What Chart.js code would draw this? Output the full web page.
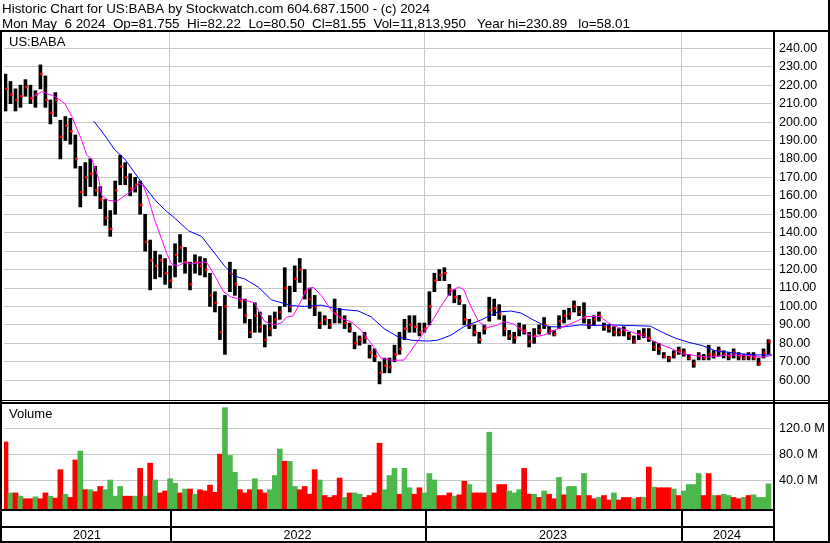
<!DOCTYPE html>
<html>
<head>
<meta charset="utf-8">
<title>US:BABA historic chart</title>
<script src="https://cdn.jsdelivr.net/npm/chart.js@4.4.1/dist/chart.umd.min.js"></script>
<style>
  html, body { margin: 0; padding: 0; background: #fff; }
  #canvas-wrapper { width: 830px; height: 543px; }
</style>
</head>
<body>
<div id="canvas-wrapper"><canvas id="canvas" width="830" height="543"></canvas></div>
<script>
// header text
var titleLine1 = 'Historic Chart for US:BABA by Stockwatch.com 604.687.1500 - (c) 2024';
var titleLine2 = 'Mon May  6 2024  Op=81.755  Hi=82.22  Lo=80.50  Cl=81.55  Vol=11,813,950   Year hi=230.89   lo=58.01';
var symbol = 'US:BABA';

// year boundaries (trading-day index) and labels
var yearStarts = [168, 424, 681];
var yearLabels = ['2021', '2022', '2023', '2024'];

// price axis ticks, volume axis ticks (millions)
var priceTicks = [60, 70, 80, 90, 100, 110, 120, 130, 140, 150, 160, 170, 180, 190, 200, 210, 220, 230, 240];
var volumeTicks = [40, 80, 120];

// weekly buckets (5 trading days each)
var high = [226,222,218,220,223,220,217,231,225,212,
  216,201,203,202,193,176,178,180,176,165,
  158,152,168,182,178,172,170,168,150,136,
  130,128,126,122,134,139,132,124,128,127,
  126,118,108,100,106,124,120,111,104,93,
  102,97,90,95,97,100,121,111,122,126,
  120,110,106,97,95,93,104,99,95,91,
  86,84,86,79,77,70,72,72,79,86,
  93,95,95,91,91,108,118,120,121,112,
  109,106,101,93,90,86,90,105,104,101,
  95,87,86,91,90,86,88,90,94,89,
  87,95,98,99,103,100,102,93,95,97,
  91,90,89,88,89,86,84,87,88,88,
  81,80,75,73,76,78,77,74,71,75,
  74,79,76,78,76,75,77,75,74,75,
  75,72,77,82];
var low = [206,210,206,208,214,210,208,218,208,199,
  203,180,190,188,175,154,160,165,160,153,
  144,138,150,166,166,160,162,150,130,109,
  115,116,112,110,116,124,118,109,118,117,
  116,100,97,82,74,108,106,99,91,83,
  86,86,78,84,88,93,100,97,108,113,
  104,99,95,88,90,88,91,91,88,86,
  77,79,80,72,70,58,64,64,70,74,
  82,86,86,84,86,90,108,114,114,106,
  102,101,90,88,84,80,85,92,95,93,
  84,82,80,84,85,78,80,85,88,85,
  84,88,91,93,97,95,91,88,90,92,
  87,86,84,84,84,82,80,82,83,81,
  76,74,72,70,72,74,73,71,67,71,
  71,71,72,73,72,71,72,71,71,71,
  71,68,72,74];
var close = [218,215,212,214,219,213,215,226,212,205,
  212,192,198,195,180,162,170,172,163,158,
  148,142,163,176,170,164,166,155,135,125,
  122,125,118,114,128,132,124,112,124,122,
  120,106,102,86,100,118,112,103,95,86,
  95,89,82,88,93,97,110,100,115,120,
  108,104,100,91,93,90,96,94,91,88,
  80,82,83,75,73,64,68,67,74,77,
  88,90,89,86,88,100,114,117,118,109,
  105,103,93,90,86,82,88,98,99,96,
  88,84,83,88,87,81,84,87,90,87,
  85,92,95,96,100,97,94,90,93,95,
  89,88,86,86,87,84,81,85,85,83,
  78,77,73,72,74,76,75,72,69,73,
  72,74,74,76,74,73,75,73,72,73,
  72,69,75,81];

// volume in millions, 1 = up bucket (green), 0 = down (red)
var volume = [99,20,20,15,11,11,14,11,20,15,
  12,56,18,13,71,85,25,25,22,30,
  25,40,15,30,15,15,15,58,15,66,
  40,20,23,42,35,20,26,26,18,25,
  23,32,21,80,152,78,52,25,20,25,
  42,25,20,25,47,88,69,69,30,25,
  30,18,56,40,16,13,16,43,13,20,
  20,18,13,16,20,97,25,47,58,18,
  58,28,18,28,20,50,40,16,16,20,
  15,17,38,33,20,20,20,114,20,33,
  33,23,20,25,58,18,18,13,23,18,
  11,44,17,30,30,16,50,16,11,13,
  16,9,20,9,13,13,11,13,13,60,
  29,28,28,28,26,16,23,33,33,50,
  16,50,16,16,18,16,13,11,13,16,
  17,13,13,34];
var volUp = [0,1,0,1,0,0,1,0,0,1,
  0,0,1,0,0,1,0,1,0,0,
  1,1,1,1,0,0,1,0,1,0,
  1,0,0,1,1,0,1,0,1,0,
  0,0,0,0,1,1,1,0,0,0,
  1,0,0,1,1,1,0,1,1,0,
  0,0,0,1,0,0,0,0,1,0,
  1,1,0,0,0,0,1,1,1,0,
  1,1,0,0,1,1,1,0,0,0,
  1,0,0,1,0,0,0,1,0,0,
  0,1,1,1,0,0,1,0,1,0,
  0,1,0,1,1,0,1,0,0,1,
  0,0,1,0,0,0,1,0,1,0,
  1,0,0,0,1,0,1,1,1,1,
  0,0,1,0,1,1,0,0,1,0,
  1,1,1,1];

// moving averages: day index and value
var ma50Day = [32,40,53,63,70,80,85,90,97,100,107,115,123,132,137,142,147,153,160,165,
  170,177,183,190,200,205,213,222,230,240,253,263,272,280,285,292,298,305,312,320,
  330,340,350,360,370,380,390,403,410,420,430,440,450,458,463,470,478,487,497,503,
  513,523,533,543,550,560,570,580,585,600,608,618,632,642,652,662,672,682,695,708,
  722,735,748,762,772];
var ma50 = [214,216.5,214,210,203,190,182,180,169,160,157.5,157,160,163.5,167,165,158,147,136.5,129,
  123,122,124,123,124,124,117,108,105,104,102,92,90,91,94,95,101,109,110.5,106,
  98,93.5,91.7,87,80,72,70.8,70.9,76,83.6,91,100,108,110.7,109,100,91.7,88.6,89.9,91.7,
  90.5,86.2,83.5,84.4,86,88.5,90.5,93,94.6,94.5,91,88.6,86,84,81.5,79,77,74.3,73.4,72.5,
  73.4,73.7,73.4,72.5,73.4];
var ma200Day = [92,100,113,123,133,143,153,163,173,187,200,213,223,233,243,257,270,290,303,320,
  337,357,370,383,397,410,427,437,450,463,480,497,510,520,533,543,550,563,580,595,
  608,633,650,662,675,688,702,715,728,742,755,772];
var ma200 = [200.5,195,185,180,172.5,165,158,152.5,148,141,138,129,122,116.5,115,110.5,103.6,100.5,100,100.7,
  98.5,97.6,94.4,88,83.5,81.7,81.2,81.7,84.4,89,92.6,97,97.5,96.5,92.6,89.9,89,88.9,90,89.6,
  90,89.6,89.3,86,82.8,80.6,78.8,76,75.2,74.3,73.7,73.7];

var VOL_MIN = -4.9;
var FONT = '"Liberation Sans", Arial, sans-serif';

Chart.defaults.font.family = FONT;

var bucketDay = high.map(function(h, i){ return 5 * i + 3.5; });
var priceBars = [], closePts = [], volBars = [], volColors = [];
for (var i = 0; i < high.length; i++) {
  priceBars.push({x: bucketDay[i], y: [low[i], high[i]]});
  closePts.push({x: bucketDay[i] + 1, y: close[i]});
  volBars.push({x: bucketDay[i], y: [VOL_MIN, volume[i]]});
  volColors.push(volUp[i] ? '#4cb84c' : '#ff0000');
}
function pairs(xs, ys) {
  return xs.map(function(x, i){ return {x: x, y: ys[i]}; });
}

// frame, header and year row drawn over the chart
var framePlugin = {
  id: 'frame',
  afterDraw: function(chart) {
    var c = chart.ctx;
    var xs = chart.scales.x;
    c.save();
    c.fillStyle = '#000';
    c.textAlign = 'left';
    c.textBaseline = 'alphabetic';
    c.font = '13.4px ' + FONT;
    c.fillText(titleLine1, 2, 13);
    c.fillText(titleLine2, 2, 28);
    c.font = '13px ' + FONT;
    c.fillText(symbol, 9, 46);
    c.fillText('Volume', 9, 418);

    c.fillRect(0, 30, 830, 2);      // under header
    c.fillRect(0, 30, 2, 513);      // left
    c.fillRect(828, 0, 2, 543);     // right
    c.fillRect(773, 30, 2, 513);    // axis rule
    c.fillRect(0, 400, 830, 1);     // price / volume split
    c.fillRect(0, 402, 830, 2);
    c.fillRect(0, 509, 775, 2);     // below volume
    c.fillRect(0, 526, 775, 2);
    c.fillRect(0, 541, 830, 2);     // bottom

    var edges = [xs.left];
    yearStarts.forEach(function(d){
      var px = Math.round(xs.getPixelForValue(d));
      edges.push(px);
      c.fillRect(px, 511, 2, 30);
    });
    edges.push(773);
    c.font = '12.5px ' + FONT;
    c.textAlign = 'center';
    for (var k = 0; k < yearLabels.length; k++) {
      c.fillText(yearLabels[k], (edges[k] + edges[k + 1]) / 2, 539);
    }
    c.restore();
  }
};

var ctx = document.getElementById('canvas').getContext('2d');
var myChart = new Chart(ctx, {
  type: 'bar',
  data: {
    datasets: [
      {
        type: 'line',
        label: 'MA50',
        data: pairs(ma50Day, ma50),
        borderColor: '#ff00ff',
        borderWidth: 1,
        pointRadius: 0,
        tension: 0,
        yAxisID: 'y',
        order: 0
      },
      {
        type: 'line',
        label: 'MA200',
        data: pairs(ma200Day, ma200),
        borderColor: '#0000ff',
        borderWidth: 1,
        pointRadius: 0,
        tension: 0,
        yAxisID: 'y',
        order: 1
      },
      {
        type: 'scatter',
        label: 'Close',
        data: closePts,
        pointStyle: 'rect',
        pointRadius: 1.8,
        pointBorderWidth: 0,
        backgroundColor: '#ff0000',
        borderColor: '#ff0000',
        yAxisID: 'y',
        order: 2
      },
      {
        label: 'Range',
        data: priceBars,
        backgroundColor: '#000000',
        barThickness: 3,
        grouped: false,
        yAxisID: 'y',
        order: 3
      },
      {
        label: 'Volume',
        data: volBars,
        backgroundColor: volColors,
        barThickness: 5,
        grouped: false,
        yAxisID: 'yv',
        order: 4
      }
    ]
  },
  options: {
    responsive: false,
    animation: false,
    devicePixelRatio: 1,
    layout: { padding: { top: 32, bottom: 34, left: 2, right: 0 } },
    plugins: { legend: { display: false }, tooltip: { enabled: false } },
    scales: {
      x: {
        type: 'linear',
        min: 2,
        max: 772,
        offset: false,
        afterBuildTicks: function(s){ s.ticks = yearStarts.map(function(v){ return {value: v}; }); },
        afterFit: function(s){ s.height = 0; },
        ticks: { display: false },
        grid: { color: '#c8c8c8', lineWidth: 1, drawTicks: false, offset: false },
        border: { display: false }
      },
      y: {
        type: 'linear',
        position: 'right',
        stack: 'panels',
        stackWeight: 368,
        min: 49.26,
        max: 248.84,
        afterBuildTicks: function(s){ s.ticks = priceTicks.map(function(v){ return {value: v}; }); },
        afterFit: function(s){ s.width = 58; },
        ticks: {
          autoSkip: false,
          padding: 7,
          color: '#000',
          font: { size: 12.5 },
          callback: function(v){ return Number(v).toFixed(2); }
        },
        grid: { color: '#c8c8c8', lineWidth: 1, drawTicks: false },
        border: { display: false }
      },
      yv: {
        type: 'linear',
        position: 'right',
        stack: 'panels',
        stackWeight: 109,
        min: VOL_MIN,
        max: 163.9,
        afterBuildTicks: function(s){ s.ticks = volumeTicks.map(function(v){ return {value: v}; }); },
        afterFit: function(s){ s.width = 58; },
        ticks: {
          autoSkip: false,
          padding: 7,
          color: '#000',
          font: { size: 12.7 },
          callback: function(v){ return Number(v).toFixed(1) + ' M'; }
        },
        grid: { color: '#c8c8c8', lineWidth: 1, drawTicks: false },
        border: { display: false }
      }
    }
  },
  plugins: [framePlugin]
});
</script>
</body>
</html>
